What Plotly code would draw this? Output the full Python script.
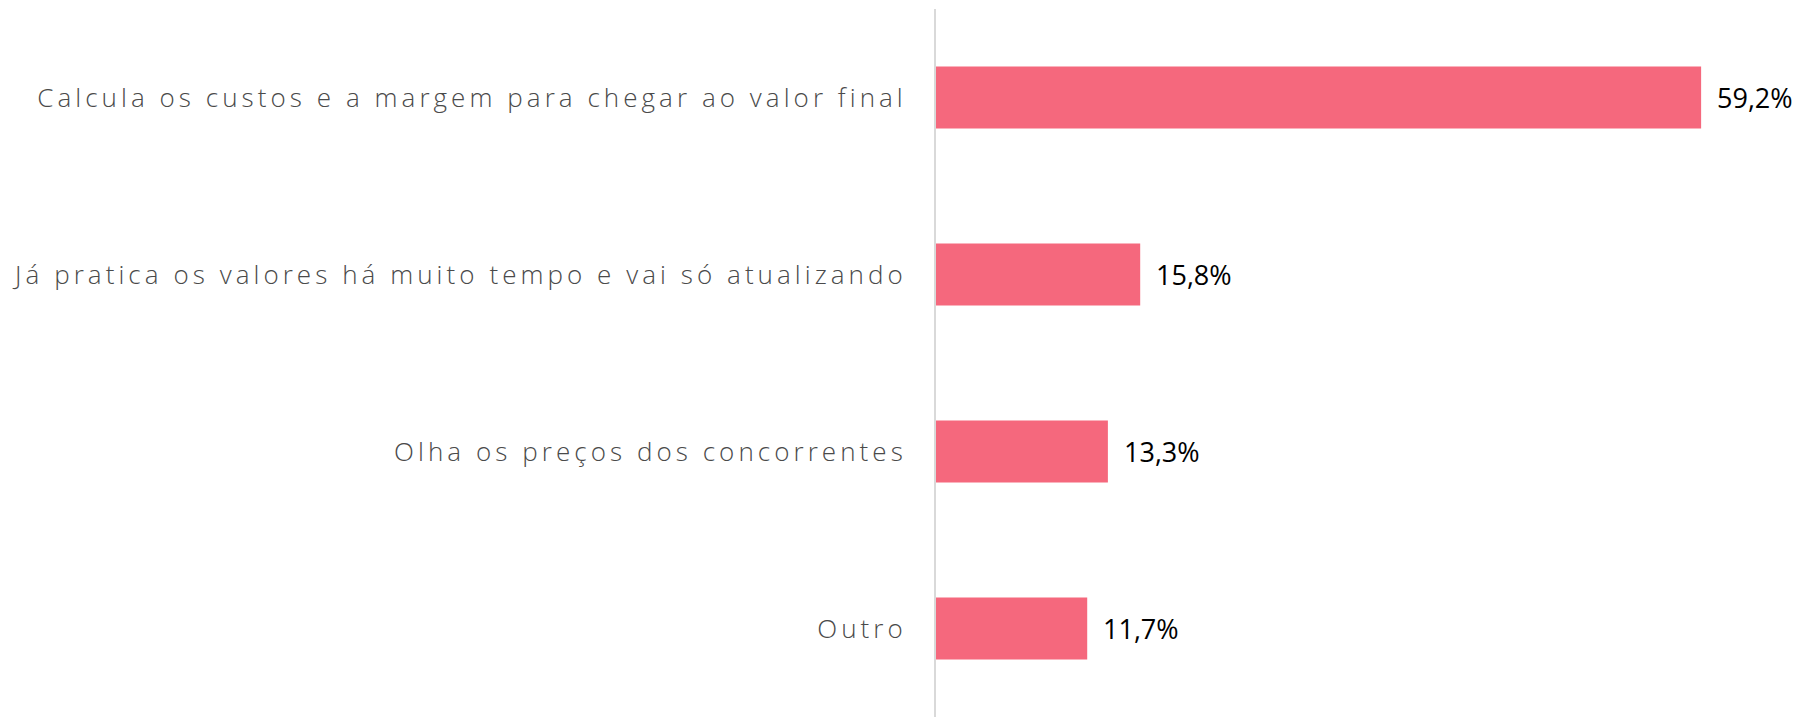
import plotly.graph_objects as go

categories = [
    "Calcula os custos e a margem para chegar ao valor final",
    "Já pratica os valores há muito tempo e vai só atualizando",
    "Olha os preços dos concorrentes",
    "Outro",
]
values = [59.2, 15.8, 13.3, 11.7]
value_labels = ["59,2%", "15,8%", "13,3%", "11,7%"]

bar_color = "#F5687D"

fig = go.Figure()
fig.add_trace(go.Bar(
    x=values,
    y=categories,
    orientation="h",
    marker=dict(color=bar_color, line=dict(width=0)),
    hoverinfo="skip",
))

for v, lab, cat in zip(values, value_labels, categories):
    fig.add_annotation(
        x=v, y=cat, text=lab, showarrow=False,
        xanchor="left", yanchor="middle", xshift=14,
        font=dict(family="Open Sans", size=27, color="#000000"),
    )

fig.update_layout(
    width=1798, height=717,
    margin=dict(l=936, r=9, t=9, b=0),
    paper_bgcolor="white", plot_bgcolor="white",
    bargap=0.65,
    showlegend=False,
    xaxis=dict(range=[0, 66], visible=False, showgrid=False, zeroline=False),
    yaxis=dict(
        categoryorder="array", categoryarray=categories[::-1],
        showgrid=False, zeroline=False,
        showline=True, linecolor="#D9D9D9", linewidth=2,
        ticks="", ticklabelstandoff=22,
        tickfont=dict(family="Open Sans", size=26, color="#4A4A4A", weight=300),
    ),
)

css = "<style>body{margin:0;} .ytick text{letter-spacing:4.05px;}</style>"
post = "document.head.insertAdjacentHTML('beforeend', '%s');" % css
fig.write_html("out.html", post_script=post, config={"displayModeBar": False})
